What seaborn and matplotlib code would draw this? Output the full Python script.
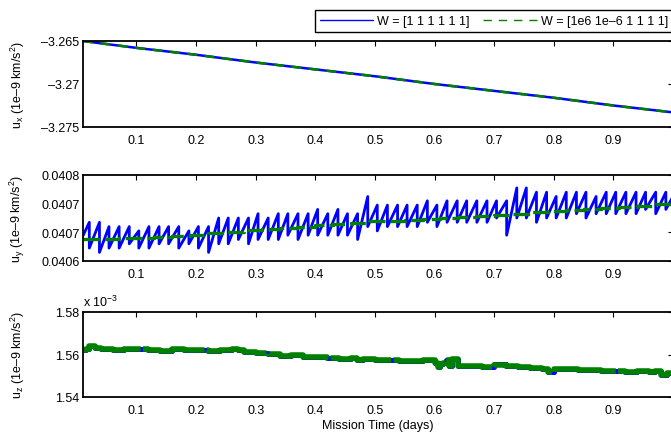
import numpy as np
import pandas as pd
import matplotlib
matplotlib.use("Agg")
import matplotlib.pyplot as plt
import seaborn as sns
from matplotlib.lines import Line2D

# ---------------- data ----------------
legend_labels = ["W = [1 1 1 1 1 1]", "W = [1e6 1e\u20136 1 1 1 1]"]
xticks = [0.1, 0.2, 0.3, 0.4, 0.5, 0.6, 0.7, 0.8, 0.9]
xtick_labels = ["0.1", "0.2", "0.3", "0.4", "0.5", "0.6", "0.7", "0.8", "0.9"]

# u_x : both solutions coincide
ux_t = [0.0104, 0.1, 0.2, 0.3, 0.4, 0.5, 0.6, 0.7, 0.8, 0.9, 1.0]
ux_blue = [-3.2650, -3.2658, -3.2666, -3.2675, -3.2683, -3.2691, -3.2700, -3.2708, -3.2716, -3.2725, -3.2733]
ux_green = [-3.2650, -3.2658, -3.2666, -3.2675, -3.2683, -3.2691, -3.2700, -3.2708, -3.2716, -3.2725, -3.2733]

# u_y : blue sawtooth, described tooth by tooth (end time, start value, end value)
uy_start_t = 0.004
uy_tooth_end = [0.021, 0.038, 0.054, 0.071, 0.088, 0.104, 0.121, 0.138, 0.154, 0.171, 0.188, 0.204, 0.221,
                0.238, 0.254, 0.271, 0.288, 0.304, 0.321, 0.338, 0.354, 0.371, 0.388, 0.404, 0.421, 0.438, 0.454, 0.471,
                0.488, 0.504, 0.521, 0.538, 0.554, 0.571, 0.588, 0.604, 0.621, 0.638, 0.654, 0.671, 0.688, 0.704, 0.721,
                0.738, 0.754, 0.771, 0.788, 0.804, 0.821, 0.838, 0.854, 0.871, 0.888, 0.904, 0.921, 0.938, 0.954, 0.971,
                0.988, 1.004]
uy_tooth_low = [0.04064, 0.04063, 0.04062, 0.04063, 0.04063, 0.04064, 0.04063, 0.04063, 0.04064, 0.04064, 0.04063, 0.04064, 0.04063,
                0.04062, 0.04064, 0.04064, 0.04065, 0.04064, 0.04065, 0.04065, 0.04065, 0.04066, 0.04065, 0.04066, 0.04066, 0.04066, 0.04066, 0.04066,
                0.04065, 0.04068, 0.04067, 0.04068, 0.04068, 0.04068, 0.04068, 0.04069, 0.04068, 0.04069, 0.04069, 0.04069, 0.04069, 0.04069, 0.04070,
                0.04066, 0.04070, 0.04070, 0.04069, 0.04070, 0.04070, 0.04070, 0.04071, 0.04070, 0.04071, 0.04071, 0.04071, 0.04071, 0.04071, 0.04072,
                0.04071, 0.04072]
uy_tooth_high = [0.04069, 0.04069, 0.04068, 0.04068, 0.04068, 0.04067, 0.04068, 0.04068, 0.04068, 0.04068, 0.04067, 0.04068, 0.04068,
                 0.04070, 0.04070, 0.04070, 0.04070, 0.04071, 0.04070, 0.04071, 0.04071, 0.04071, 0.04071, 0.04072, 0.04071, 0.04072, 0.04071, 0.04071,
                 0.04075, 0.04073, 0.04073, 0.04073, 0.04073, 0.04073, 0.04074, 0.04073, 0.04074, 0.04074, 0.04074, 0.04074, 0.04074, 0.04074, 0.04074,
                 0.04077, 0.04077, 0.04076, 0.04076, 0.04075, 0.04076, 0.04076, 0.04076, 0.04075, 0.04076, 0.04076, 0.04076, 0.04076, 0.04076, 0.04076,
                 0.04076, 0.04076]
uy_green_t = [0.0104, 0.04, 0.07, 0.10, 0.13, 0.16, 0.19, 0.22, 0.25, 0.28, 0.31, 0.34, 0.37, 0.40, 0.43, 0.46, 0.49,
              0.52, 0.55, 0.58, 0.61, 0.64, 0.67, 0.70, 0.73, 0.76, 0.79, 0.82, 0.85, 0.88, 0.91, 0.94, 0.97, 1.0]
uy_green = [0.040651, 0.040652, 0.040653, 0.040654, 0.040656, 0.040658, 0.040661, 0.040664, 0.040668, 0.040671, 0.040674, 0.040677,
            0.040680, 0.040683, 0.040686, 0.040689, 0.040692, 0.040694, 0.040696, 0.040698, 0.040700, 0.040703, 0.040705, 0.040707,
            0.040710, 0.040713, 0.040716, 0.040718, 0.040721, 0.040723, 0.040726, 0.040729, 0.040732, 0.040735]

# u_z
uz_t = [0.0104, 0.015, 0.020, 0.030, 0.040, 0.060, 0.080, 0.100, 0.120, 0.140, 0.160, 0.180, 0.200, 0.220, 0.240, 0.260,
        0.270, 0.280, 0.300, 0.320, 0.340, 0.360, 0.380, 0.400, 0.420, 0.440, 0.460, 0.470, 0.480, 0.500, 0.520, 0.540,
        0.560, 0.580, 0.600, 0.605, 0.610, 0.615, 0.620, 0.625, 0.630, 0.640, 0.660, 0.680, 0.700, 0.720, 0.740, 0.760,
        0.780, 0.790, 0.800, 0.820, 0.840, 0.860, 0.880, 0.900, 0.920, 0.940, 0.960, 0.970, 0.980, 0.990, 1.000]
uz_green = [1.5620, 1.5628, 1.5640, 1.5632, 1.5625, 1.5622, 1.5624, 1.5626, 1.5621, 1.5618, 1.5625, 1.5620, 1.5622, 1.5618,
            1.5622, 1.5624, 1.5620, 1.5610, 1.5605, 1.5600, 1.5592, 1.5596, 1.5590, 1.5588, 1.5585, 1.5580, 1.5584, 1.5575,
            1.5580, 1.5572, 1.5575, 1.5570, 1.5568, 1.5574, 1.5562, 1.5540, 1.5555, 1.5560, 1.5575, 1.5545, 1.5578, 1.5548,
            1.5545, 1.5540, 1.5552, 1.5545, 1.5542, 1.5538, 1.5530, 1.5520, 1.5532, 1.5530, 1.5528, 1.5526, 1.5524, 1.5522,
            1.5520, 1.5521, 1.5518, 1.5522, 1.5505, 1.5515, 1.5520]
uz_blue = [1.5620, 1.5628, 1.5640, 1.5632, 1.5625, 1.5622, 1.5624, 1.5626, 1.5621, 1.5618, 1.5625, 1.5620, 1.5622, 1.5618,
           1.5622, 1.5624, 1.5620, 1.5610, 1.5605, 1.5600, 1.5592, 1.5596, 1.5588, 1.5588, 1.5585, 1.5580, 1.5584, 1.5575,
           1.5580, 1.5572, 1.5575, 1.5570, 1.5568, 1.5574, 1.5562, 1.5540, 1.5555, 1.5560, 1.5575, 1.5545, 1.5578, 1.5548,
           1.5545, 1.5540, 1.5555, 1.5545, 1.5542, 1.5538, 1.5530, 1.5520, 1.5532, 1.5530, 1.5528, 1.5526, 1.5524, 1.5522,
           1.5520, 1.5521, 1.5518, 1.5524, 1.5505, 1.5515, 1.5520]

# ---------------- build tables ----------------
saw_t, saw_v = [], []
prev = uy_start_t
for end, lo, hi in zip(uy_tooth_end, uy_tooth_low, uy_tooth_high):
    saw_t += [prev, end]
    saw_v += [lo, hi]
    prev = end
df_uy = pd.DataFrame({"t": saw_t, "v": saw_v})
df_uz_b = pd.DataFrame({"t": uz_t, "v": np.array(uz_blue) * 1e-3})
df_uz_g = pd.DataFrame({"t": uz_t, "v": np.array(uz_green) * 1e-3})

# ---------------- style ----------------
sns.set_theme(style="white")
plt.rcParams.update({
    "font.family": ["Liberation Sans", "DejaVu Sans"],
    "font.size": 9,
    "mathtext.fontset": "custom",
    "mathtext.rm": "Liberation Sans",
    "mathtext.it": "Liberation Sans",
    "axes.edgecolor": "black",
    "axes.linewidth": 1.3,
    "axes.labelcolor": "black",
    "text.color": "black",
    "xtick.color": "black",
    "ytick.color": "black",
    "xtick.direction": "in",
    "ytick.direction": "in",
    "xtick.top": True,
    "ytick.right": True,
    "xtick.major.size": 3.6,
    "ytick.major.size": 3.6,
    "xtick.major.width": 0.8,
    "ytick.major.width": 0.8,
    "xtick.major.pad": 5,
    "ytick.major.pad": 2.5,
    "xtick.labelsize": 9,
    "ytick.labelsize": 9,
})

BLUE = (0, 0, 1)
GREEN = (0, 0.5, 0)
DASH = (0, (4, 3))

fig = plt.figure(figsize=(6.71, 4.39), dpi=100)
L, W = 83 / 671, 590 / 671


def ax_at(top, bot):
    return fig.add_axes([L, 1 - bot / 439, W, (bot - top) / 439])


ax1 = ax_at(42, 128)
ax2 = ax_at(176, 262)
ax3 = ax_at(313, 398)

# u_x
sns.lineplot(x=ux_t, y=ux_blue, ax=ax1, color=BLUE, lw=1.8, estimator=None, sort=False)
sns.lineplot(x=ux_t, y=ux_green, ax=ax1, color=GREEN, lw=1.8, linestyle=DASH, estimator=None, sort=False)
ax1.set_ylim(-3.275, -3.265)
ax1.set_yticks([-3.275, -3.27, -3.265])
ax1.set_yticklabels(["\u20133.275", "\u20133.27", "\u20133.265"])

# u_y
sns.lineplot(data=df_uy, x="t", y="v", ax=ax2, color=BLUE, lw=2.0, estimator=None, sort=False)
sns.lineplot(x=uy_green_t, y=uy_green, ax=ax2, color=GREEN, lw=2.4, linestyle=(0, (5, 1.5)),
             drawstyle="steps-post", estimator=None, sort=False)
ax2.set_ylim(0.0406, 0.0408)
ax2.set_yticks([0.0406, 0.0406 + 0.0002 / 3, 0.0406 + 0.0004 / 3, 0.0408])
ax2.set_yticklabels(["0.0406", "0.0407", "0.0407", "0.0408"])

# u_z
sns.lineplot(data=df_uz_b, x="t", y="v", ax=ax3, color=BLUE, lw=3.6, drawstyle="steps-post",
             estimator=None, sort=False)
sns.lineplot(data=df_uz_g, x="t", y="v", ax=ax3, color=GREEN, lw=4.0, linestyle=(0, (12, 0.4)),
             drawstyle="steps-post", estimator=None, sort=False)
ax3.set_ylim(1.54e-3, 1.58e-3)
ax3.set_yticks([1.54e-3, 1.56e-3, 1.58e-3])
ax3.set_yticklabels(["1.54", "1.56", "1.58"])
ax3.text(0.0, 1.03, "x 10$^{\\mathrm{\u22123}}$", transform=ax3.transAxes, ha="left", va="bottom", fontsize=9)
ax3.set_xlabel("Mission Time (days)", fontsize=9, labelpad=2)

ylabels = ["u$_{\\mathrm{x}}$ (1e\u20139 km/s$^{\\mathrm{2}}$)",
           "u$_{\\mathrm{y}}$ (1e\u20139 km/s$^{\\mathrm{2}}$)",
           "u$_{\\mathrm{z}}$ (1e\u20139 km/s$^{\\mathrm{2}}$)"]
for ax, yl in zip([ax1, ax2, ax3], ylabels):
    ax.set_xlim(0.0104, 1.0)
    ax.set_xticks(xticks)
    ax.set_xticklabels(xtick_labels)
    ax.set_ylabel(yl, fontsize=9)
    ax.yaxis.set_label_coords(-0.095, 0.5)
    if ax is not ax3:
        ax.set_xlabel("")
    ax.grid(False)
    for s in ax.spines.values():
        s.set_visible(True)
        s.set_color("black")

handles = [Line2D([], [], color=BLUE, lw=1.0),
           Line2D([], [], color=GREEN, lw=1.0, linestyle=(0, (6, 5)))]
leg = fig.legend(handles, legend_labels, loc="upper right", bbox_to_anchor=(673 / 671, 1 - 11 / 439),
                 ncol=2, frameon=True, fancybox=False, framealpha=1, edgecolor="black", fontsize=9,
                 handlelength=4.3, handletextpad=0.3, columnspacing=1.1, borderpad=0.4, borderaxespad=0)
leg.get_frame().set_linewidth(1.0)

fig.savefig("out.png", dpi=100)
